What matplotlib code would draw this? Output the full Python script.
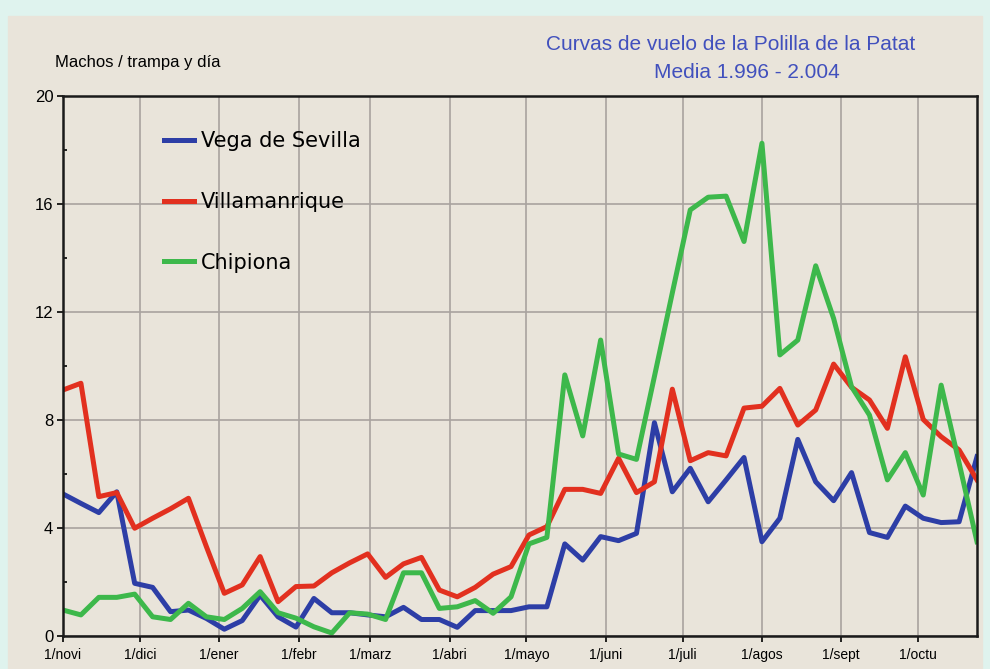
import numpy as np
import matplotlib.pyplot as plt
from matplotlib.patches import Rectangle
from matplotlib.ticker import MultipleLocator

# Weekly means 1996-2004, week 0 = 1 November
vega_sevilla = [5.25, 4.9, 4.56, 5.33, 1.94, 1.79, 0.89, 0.95, 0.64, 0.24,
                0.56, 1.5, 0.7, 0.32, 1.38, 0.85, 0.85, 0.77, 0.7, 1.05,
                0.6, 0.6, 0.31, 0.93, 0.93, 0.93, 1.07, 1.07, 3.4, 2.8,
                3.67, 3.52, 3.79, 7.89, 5.33, 6.2, 4.96, 5.77, 6.6, 3.48,
                4.35, 7.27, 5.7, 5.0, 6.04, 3.82, 3.64, 4.8, 4.35, 4.19,
                4.22, 6.63]
villamanrique = [9.1, 9.35, 5.15, 5.3, 3.98, 4.35, 4.7, 5.09, 3.3, 1.57,
                 1.88, 2.93, 1.26, 1.82, 1.84, 2.33, 2.7, 3.03, 2.16, 2.66,
                 2.9, 1.69, 1.44, 1.79, 2.28, 2.56, 3.73, 4.04, 5.42, 5.42,
                 5.27, 6.57, 5.3, 5.7, 9.13, 6.48, 6.78, 6.66, 8.43, 8.5,
                 9.16, 7.8, 8.36, 10.06, 9.2, 8.73, 7.68, 10.33, 8.01, 7.37,
                 6.88, 5.77]
chipiona = [0.95, 0.77, 1.42, 1.42, 1.54, 0.7, 0.6, 1.2, 0.7, 0.6,
            1.01, 1.63, 0.85, 0.65, 0.33, 0.1, 0.85, 0.8, 0.6, 2.33,
            2.33, 1.01, 1.07, 1.3, 0.83, 1.44, 3.4, 3.64, 9.66, 7.4,
            10.95, 6.73, 6.53, 9.6, 12.7, 15.77, 16.24, 16.28, 14.6, 18.24,
            10.4, 10.95, 13.7, 11.75, 9.22, 8.17, 5.77, 6.78, 5.21, 9.28,
            6.4, 3.48]

month_labels = ["1/novi", "1/dici", "1/ener", "1/febr", "1/marz", "1/abri",
                "1/mayo", "1/juni", "1/juli", "1/agos", "1/sept", "1/octu"]
month_days = [30, 31, 31, 28, 31, 30, 31, 30, 31, 31, 30]

weeks = np.arange(len(vega_sevilla))
month_pos = np.concatenate(([0], np.cumsum(month_days))) / 7.0

sans = ["Liberation Sans", "DejaVu Sans"]
paper = "#e9e4da"

fig = plt.figure(figsize=(9.9, 6.69), dpi=100, facecolor="#dff3ee")
fig.patches.append(Rectangle((8 / 990, 0), 974 / 990, 653 / 669,
                             transform=fig.transFigure, color=paper,
                             zorder=-5))

ax = fig.add_axes([63 / 990, 1 - 635.7 / 669, 914 / 990, 540 / 669])
ax.set_facecolor(paper)

ax.plot(weeks, vega_sevilla, color="#2d3ea6", lw=3.6, label="Vega de Sevilla")
ax.plot(weeks, villamanrique, color="#e2301f", lw=3.6, label="Villamanrique")
ax.plot(weeks, chipiona, color="#3db84b", lw=3.6, label="Chipiona")

ax.set_xlim(0, len(weeks) - 1)
ax.set_ylim(0, 20)
ax.set_xticks(month_pos)
ax.set_xticklabels(month_labels, family=sans, fontsize=10)
ax.set_yticks(np.arange(0, 21, 4))
ax.yaxis.set_minor_locator(MultipleLocator(2))
ax.tick_params(axis="y", which="major", length=4, width=1.2, labelsize=12,
               pad=3)
ax.tick_params(axis="y", which="minor", direction="in", length=3, width=1.2)
ax.tick_params(axis="x", length=4, width=1.2, pad=5)
for lab in ax.get_yticklabels():
    lab.set_family(sans)

ax.grid(True, color="#a9a39f", lw=1.2)
ax.set_axisbelow(True)
for sp in ax.spines.values():
    sp.set_linewidth(1.8)
    sp.set_color("#1a1a1a")

leg = ax.legend(loc="upper left", bbox_to_anchor=(0.0994, 0.953),
                frameon=False, fontsize=15, handlelength=1.45,
                handletextpad=0.3, labelspacing=1.95, borderpad=0)
for line in leg.get_lines():
    line.set_linewidth(3.6)

fig.text(55 / 990, 1 - 62 / 669, "Machos / trampa y día", family=sans,
         fontsize=12, va="center", ha="left")
fig.text(731 / 990, 1 - 45 / 669, "Curvas de vuelo de la Polilla de la Patat",
         family=sans, fontsize=15, color="#4150bd", ha="center", va="center")
fig.text(747 / 990, 1 - 73 / 669, "Media 1.996 - 2.004", family=sans,
         fontsize=15, color="#4150bd", ha="center", va="center")

fig.savefig("out.png", dpi=100, facecolor=fig.get_facecolor())
